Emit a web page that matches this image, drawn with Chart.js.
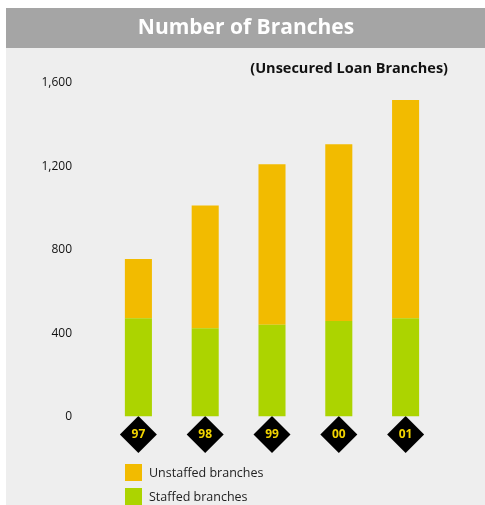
<!DOCTYPE html>
<html>
<head>
<meta charset="utf-8">
<script src="https://cdn.jsdelivr.net/npm/chart.js@4.4.1/dist/chart.umd.min.js"></script>
<style>
  html, body { margin: 0; padding: 0; background: #ffffff; }
  #box { width: 485px; height: 505px; }
</style>
</head>
<body>
<div id="box"><canvas id="wykres"></canvas></div>
<script>
// dane
var years = ['97', '98', '99', '00', '01'];
var staffed = [472, 424, 440, 459, 472];
var unstaffed = [284, 588, 770, 847, 1046];
var yTicks = [0, 400, 800, 1200, 1600];

var FONT = '"Open Sans", "Noto Sans", sans-serif';

// tlo, naglowek, romby pod etykietami lat
var tloPlugin = {
  id: 'tlo',
  beforeDraw: function (chart) {
    var ctx = chart.ctx;
    ctx.save();
    ctx.fillStyle = '#eeeeee';
    ctx.fillRect(6, 48, chart.width - 6, chart.height - 48);
    ctx.fillStyle = '#a5a5a5';
    ctx.fillRect(6, 8, chart.width - 6, 40);

    ctx.fillStyle = '#ffffff';
    ctx.font = 'bold 21px ' + FONT;
    ctx.textAlign = 'center';
    ctx.textBaseline = 'middle';
    ctx.fillText('Number of Branches', 246, 28);

    ctx.fillStyle = '#111111';
    ctx.font = 'bold 14.5px ' + FONT;
    ctx.textAlign = 'right';
    ctx.fillText('(Unsecured Loan Branches)', 448, 69);

    var xs = chart.scales.x;
    var cy = chart.chartArea.bottom + 18;
    ctx.fillStyle = '#000000';
    for (var i = 0; i < years.length; i++) {
      var cx = xs.getPixelForValue(i);
      ctx.beginPath();
      ctx.moveTo(cx, cy - 18.5);
      ctx.lineTo(cx + 18.5, cy);
      ctx.lineTo(cx, cy + 18.5);
      ctx.lineTo(cx - 18.5, cy);
      ctx.closePath();
      ctx.fill();
    }
    ctx.restore();
  },
  afterDraw: function (chart) {
    // legenda pionowa
    var ctx = chart.ctx;
    var ds = chart.data.datasets.slice().reverse();
    ctx.save();
    ctx.font = '12.5px ' + FONT;
    ctx.textAlign = 'left';
    ctx.textBaseline = 'middle';
    for (var i = 0; i < ds.length; i++) {
      var y = 464 + i * 24;
      ctx.fillStyle = ds[i].backgroundColor;
      ctx.fillRect(125, y, 17, 17);
      ctx.fillStyle = '#222222';
      ctx.fillText(ds[i].label, 149, y + 9.5);
    }
    ctx.restore();
  }
};

new Chart(document.getElementById('wykres'), {
  type: 'bar',
  data: {
    labels: years,
    datasets: [
      {
        label: 'Staffed branches',
        data: staffed,
        backgroundColor: '#acd400',
        categoryPercentage: 1,
        barPercentage: 0.405
      },
      {
        label: 'Unstaffed branches',
        data: unstaffed,
        backgroundColor: '#f2bb00',
        categoryPercentage: 1,
        barPercentage: 0.405
      }
    ]
  },
  options: {
    responsive: true,
    maintainAspectRatio: false,
    animation: false,
    layout: { padding: { top: 83, bottom: 52, left: 0, right: 46 } },
    plugins: {
      legend: { display: false },
      tooltip: { enabled: false }
    },
    scales: {
      x: {
        stacked: true,
        grid: { display: false, drawTicks: false },
        border: { display: false },
        ticks: {
          color: '#f2d400',
          font: { family: FONT, size: 12, weight: 'bold' },
          padding: 11,
          maxRotation: 0
        }
      },
      y: {
        stacked: true,
        min: 0,
        max: 1600,
        grid: { display: false, drawTicks: false },
        border: { display: false },
        afterBuildTicks: function (axis) {
          axis.ticks = yTicks.map(function (v) { return { value: v }; });
        },
        afterFit: function (axis) { axis.width = 105; },
        ticks: {
          color: '#111111',
          font: { family: FONT, size: 12 },
          padding: 33,
          callback: function (v) { return v.toLocaleString('en-US'); }
        }
      }
    }
  },
  plugins: [tloPlugin]
});
</script>
</body>
</html>
